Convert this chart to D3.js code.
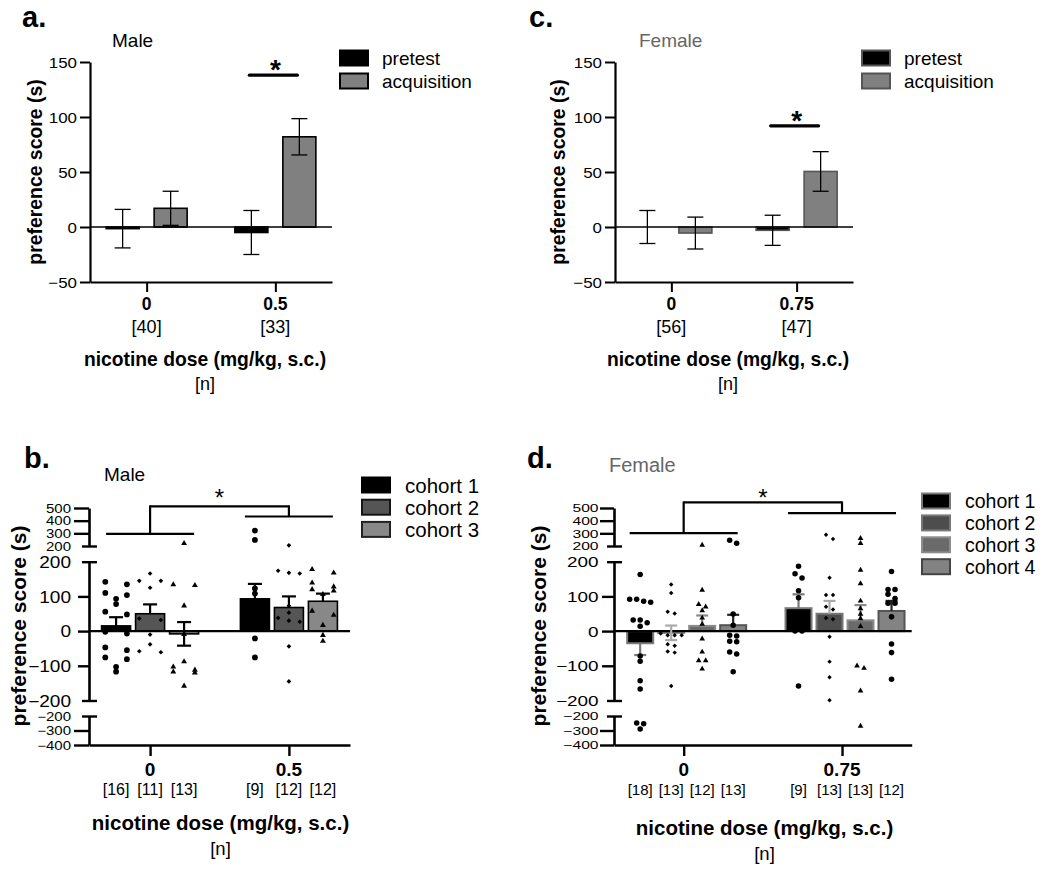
<!DOCTYPE html>
<html>
<head>
<meta charset="utf-8">
<script src="https://cdn.jsdelivr.net/npm/d3@7"></script>
<style>
  body { margin: 0; background: #fff; }
  svg { display: block; }
  text { font-family: "Liberation Sans", Arial, sans-serif; }
</style>
</head>
<body>
<svg id="chart" width="1050" height="874"></svg>
<script>
// ================= DATA =================
// Panels a / c : pretest vs acquisition (mean, SEM)
const simpleSeries = ["pretest", "acquisition"];
const simpleTicks = [-50, 0, 50, 100, 150];

const aDoses = ["0", "0.5"];
const aN = ["[40]", "[33]"];
const aPretestMean = [-1.5, -5];
const aPretestSem = [17.5, 20];
const aAcqMean = [17, 82];
const aAcqSem = [15.5, 16.5];

const cDoses = ["0", "0.75"];
const cN = ["[56]", "[47]"];
const cPretestMean = [0, -3];
const cPretestSem = [15, 13.7];
const cAcqMean = [-5.5, 50.5];
const cAcqSem = [14.5, 18];

// Panels b / d : broken y axis, cohorts
const brokenTicksTop = [200, 300, 400, 500];
const brokenTicksMid = [-200, -100, 0, 100, 200];
const brokenTicksBot = [-400, -300, -200];

const bCohorts = ["cohort 1", "cohort 2", "cohort 3"];
const bDoses = ["0", "0.5"];
const bN = [["[16]", "[11]", "[13]"], ["[9]", "[12]", "[12]"]];
const bMean = [[15, 50, -8], [93, 68, 86]];
const bSem = [[25, 27, 34], [43, 32, 22]];
const bErrDir = [["up", "up", "both"], ["up", "up", "up"]];
const bPointsDose0 = [
  [135, 110, 93, 48, -2, -55, -76, -117, -47, 142, 104, 78, 56, -7, -81, -103],
  [145, -61, 166, 125, 32, -10, -38, 145, 36, -58],
  [-9, -88, -117, 221, 134, 73, -112, -158, 132, -103, -120]
];
const bPointsDose1 = [
  [322, 248, 123, 108, -21, -76],
  [168, 205, 166, 174, 53, 27, 73, 30, 38, -44, -145],
  [128, 106, 168, 116, 46, 17, -12, -29, 178, 139, 120, 58]
];

const dCohorts = ["cohort 1", "cohort 2", "cohort 3", "cohort 4"];
const dDoses = ["0", "0.75"];
const dN = [["[18]", "[13]", "[12]", "[13]"], ["[9]", "[13]", "[13]", "[12]"]];
const dMean = [[-35, -5, 15, 17], [66, 50, 31, 58]];
const dSem = [[34, 21, 30, 30], [40, 37, 44, 29]];
const dErrDir = [["down", "both", "up", "up"], ["up", "up", "up", "up"]];
const dPointsDose0 = [
  [163, 92, 83, 92, 86, 32, 32, 14, 24, -87, -72, -167, -143, -253, -248, -290],
  [134, 110, 56, 51, -7, -12, -12, -12, -42, -38, -62, -59, -158],
  [208, 118, 77, 70, 59, 38, 20, -22, -60, -85, -109, -85],
  [245, 221, 49, 17, -14, -12, -31, -29, -66, -60, -117]
];
const dPointsDose1 = [
  [187, 165, 153, 116, 96, 0, 0, -158],
  [256, 288, 104, 104, 70, 154, 62, 34, 38, -16, -88, -133, -199],
  [261, 221, 176, 137, 87, 65, 36, 14, -100, -107, -172, -269, 49],
  [106, 80, 172, 120, 94, 41, -37, -62, -139, 120, 80]
];

// ================= DRAWING =================
const svg = d3.select("#chart");

function txt(g, x, y, s, size, o = {}) {
  const t = g.append("text").attr("x", x).attr("y", y).text(s)
    .attr("font-size", size)
    .attr("font-weight", o.bold ? "bold" : "normal")
    .attr("fill", o.fill || "#000")
    .attr("text-anchor", o.anchor || "middle");
  if (o.baseline) t.attr("dominant-baseline", o.baseline);
  if (o.rotate) t.attr("transform", `rotate(-90,${x},${y})`);
  else if (o.sx) t.attr("transform", `translate(${x},${y}) scale(${o.sx},1) translate(${-x},${-y})`);
  return t;
}

function styleTicks(axisG, size, sx, gap) {
  axisG.attr("font-family", null).attr("font-size", null);
  axisG.selectAll(".tick text")
    .attr("font-size", size)
    .attr("fill", "#000")
    .attr("x", -gap / sx)
    .attr("dy", "0.36em")
    .attr("transform", `scale(${sx},1)`);
}

function errorBar(g, cx, y0, y1, cap, color, sw) {
  g.append("line").attr("x1", cx).attr("x2", cx).attr("y1", y0).attr("y2", y1)
    .attr("stroke", color).attr("stroke-width", sw);
  [y0, y1].forEach(yy => g.append("line").attr("x1", cx - cap / 2).attr("x2", cx + cap / 2)
    .attr("y1", yy).attr("y2", yy).attr("stroke", color).attr("stroke-width", sw));
}

function simplePanel(o) {
  const g = svg.append("g");
  const x = d3.scalePoint().domain(o.doses).range([o.x0, o.x1]).padding(o.pad);
  const inner = d3.scaleBand().domain(simpleSeries).range([-40.5, 40.5]).paddingInner(0.3125).paddingOuter(0);
  const y = d3.scaleLinear().domain([-50, 150]).range([282, 62]);

  // bars
  const rows = [];
  o.doses.forEach((dose, i) => {
    rows.push({ dose, s: "pretest", m: o.pm[i], e: o.ps[i] });
    rows.push({ dose, s: "acquisition", m: o.am[i], e: o.as[i] });
  });
  g.selectAll("rect.bar").data(rows).join("rect").attr("class", "bar")
    .attr("x", d => x(d.dose) + inner(d.s))
    .attr("width", inner.bandwidth())
    .attr("y", d => y(Math.max(0, d.m)))
    .attr("height", d => Math.abs(y(d.m) - y(0)))
    .attr("fill", d => d.s === "pretest" ? "#000" : "#808080")
    .attr("stroke", o.barStroke).attr("stroke-width", 1.6);

  // zero line
  g.append("line").attr("x1", o.x0).attr("x2", o.x1).attr("y1", y(0)).attr("y2", y(0))
    .attr("stroke", "#000").attr("stroke-width", 1.6);

  // error bars
  rows.forEach(d => {
    const cx = x(d.dose) + inner(d.s) + inner.bandwidth() / 2;
    errorBar(g, cx, y(d.m - d.e), y(d.m + d.e), 16, "#000", 1.3);
  });

  // axes
  const ya = g.append("g").attr("transform", `translate(${o.x0},0)`)
    .call(d3.axisLeft(y).tickValues(simpleTicks).tickSize(10).tickSizeOuter(0));
  ya.select(".domain").attr("stroke-width", 2.2);
  ya.selectAll(".tick line").attr("stroke-width", 2);
  styleTicks(ya, 15, 1.13, 13);

  const xa = g.append("g").attr("transform", `translate(0,282)`)
    .call(d3.axisBottom(x).tickSize(10).tickSizeOuter(0).tickFormat(""));
  xa.select(".domain").attr("stroke-width", 2.2);
  xa.selectAll(".tick line").attr("stroke-width", 2);

  o.doses.forEach((dose, i) => {
    txt(g, x(dose), 310, dose, 17.5, { bold: true });
    txt(g, x(dose), 333, o.n[i], 18);
  });

  // significance
  const sx1 = x(o.doses[1]) + inner("pretest") + inner.bandwidth() / 2;
  const sx2 = x(o.doses[1]) + inner("acquisition") + inner.bandwidth() / 2;
  g.append("line").attr("x1", sx1 - 2).attr("x2", sx2 - 2).attr("y1", y(o.sig)).attr("y2", y(o.sig))
    .attr("stroke", "#000").attr("stroke-width", 3.2).attr("stroke-linecap", "round");
  txt(g, (sx1 + sx2) / 2, y(o.sig) - 12 + 0.58 * 28, "*", 28, { bold: true });

  // titles
  txt(g, o.letterX, 26.5, o.letter, 29, { bold: true, anchor: "start" });
  txt(g, o.titleX, 46.5, o.title, 19, { anchor: "start", fill: o.titleColor });
  txt(g, o.yTitleX, 172, "preference score (s)", 19.4, { bold: true, rotate: true, baseline: "central" });
  txt(g, (o.x0 + o.x1) / 2 - 6, 366, "nicotine dose (mg/kg, s.c.)", 19.3, { bold: true });
  txt(g, (o.x0 + o.x1) / 2 - 6, 390, "[n]", 18);

  // legend
  simpleSeries.forEach((s, i) => {
    const cy = 58 + i * 23;
    g.append("rect").attr("x", o.legX).attr("y", cy - 7.5).attr("width", 28).attr("height", 15)
      .attr("fill", s === "pretest" ? "#000" : "#808080")
      .attr("stroke", o.legStroke).attr("stroke-width", 2);
    txt(g, o.legX + 42, cy, s, 19, { anchor: "start", baseline: "central" });
  });
}

function cohortPanel(o) {
  const g = svg.append("g");
  const x = d3.scalePoint().domain(o.doses).range([o.x0, o.x1]).padding(o.pad);
  const inner = d3.scaleBand().domain(o.cohorts)
    .range([-o.iw / 2 + o.shift, o.iw / 2 + o.shift]).paddingInner(o.pin).paddingOuter(0);
  const yT = d3.scaleLinear().domain([200, 500]).range([546, 508]);
  const yM = d3.scaleLinear().domain([-200, 200]).range([700.5, 561.7]);
  const yB = d3.scaleLinear().domain([-400, -200]).range([745, 716]);
  const y = v => v > 200 ? yT(v) : (v < -200 ? yB(v) : yM(v));
  const bw = inner.bandwidth();

  // bars
  const rows = [];
  o.doses.forEach((dose, i) => o.cohorts.forEach((c, j) => rows.push({
    dose, c, j, m: o.mean[i][j], e: o.sem[i][j], dir: o.dir[i][j], pts: o.points[i][j], n: o.n[i][j]
  })));
  g.selectAll("rect.bar").data(rows).join("rect").attr("class", "bar")
    .attr("x", d => x(d.dose) + inner(d.c))
    .attr("width", bw)
    .attr("y", d => yM(Math.max(0, d.m)))
    .attr("height", d => Math.abs(yM(d.m) - yM(0)))
    .attr("fill", d => o.fills[d.j])
    .attr("stroke", d => o.strokes[d.j]).attr("stroke-width", o.bsw);

  // zero line
  g.append("line").attr("x1", o.x0).attr("x2", o.x1).attr("y1", yM(0)).attr("y2", yM(0))
    .attr("stroke", "#000").attr("stroke-width", 2.4);

  // error bars
  rows.forEach(d => {
    const cx = x(d.dose) + inner(d.c) + bw / 2;
    const lo = d.dir === "up" ? d.m : d.m - d.e;
    const hi = d.dir === "down" ? d.m : d.m + d.e;
    const lw = 2.2;
    g.append("line").attr("x1", cx).attr("x2", cx).attr("y1", yM(lo)).attr("y2", yM(hi))
      .attr("stroke", o.errColors[d.j]).attr("stroke-width", lw);
    const capsAt = d.dir === "both" ? [lo, hi] : (d.dir === "up" ? [hi] : [lo]);
    capsAt.forEach(v => g.append("line").attr("x1", cx - o.cap / 2).attr("x2", cx + o.cap / 2)
      .attr("y1", yM(v)).attr("y2", yM(v)).attr("stroke", o.errColors[d.j]).attr("stroke-width", lw));
  });

  // points (rows of similar values spread sideways)
  const symTypes = { circle: d3.symbolCircle, square: d3.symbolSquare, triangle: d3.symbolTriangle };
  rows.forEach(d => {
    const cx = x(d.dose) + inner(d.c) + bw / 2;
    const pts = d.pts.map(v => ({ v, py: y(v) })).sort((a, b) => a.py - b.py);
    const groups = [];
    pts.forEach(p => {
      const last = groups[groups.length - 1];
      if (last && p.py - last[0].py < o.rowDy) last.push(p); else groups.push([p]);
    });
    groups.forEach(gr => {
      const k = gr.length;
      const w = Math.min((k - 1) * o.colStep, o.maxW);
      gr.forEach((p, i) => { p.px = cx + (k === 1 ? 0 : -w / 2 + i * w / (k - 1)); });
    });
    const shape = o.symbols[d.j];
    g.selectAll(null).data(pts).join("path")
      .attr("d", d3.symbol().type(symTypes[shape]).size(o.symSize[shape]))
      .attr("transform", p => `translate(${p.px},${p.py})` + (shape === "square" ? " rotate(45)" : ""))
      .attr("fill", "#000");
  });

  // axes: three segments
  const segs = [
    { sc: yT, ticks: brokenTicksTop, caps: [200], size: o.smallSize, sx: o.smallSx, tl: o.tlSmall },
    { sc: yM, ticks: brokenTicksMid, caps: [-200, 200], size: o.midSize, sx: o.midSx, tl: o.tlMid },
    { sc: yB, ticks: brokenTicksBot, caps: [-200], size: o.smallSize, sx: o.smallSx, tl: o.tlSmall }
  ];
  segs.forEach(s => {
    const a = g.append("g").attr("transform", `translate(${o.x0},0)`)
      .call(d3.axisLeft(s.sc).tickValues(s.ticks).tickSize(s.tl).tickSizeOuter(0));
    a.select(".domain").attr("stroke-width", 2.6);
    a.selectAll(".tick line").attr("stroke-width", 2.4)
      .filter(v => s.caps.includes(v)).attr("x1", 8).attr("x2", -7);
    styleTicks(a, s.size, s.sx, o.labGap);
  });
  const xa = g.append("g").attr("transform", `translate(0,745)`)
    .call(d3.axisBottom(x).tickSize(11).tickSizeOuter(0).tickFormat(""));
  xa.select(".domain").attr("stroke-width", 2.6);
  xa.selectAll(".tick line").attr("stroke-width", 2.4);

  o.doses.forEach(dose => txt(g, x(dose), 776, dose, 19, { bold: true }));
  rows.forEach(d => txt(g, x(d.dose) + inner(d.c) + bw / 2, 795, d.n, o.nSize));

  // significance bracket
  const gx0 = x(o.doses[0]), gx1 = x(o.doses[1]);
  const ln = (x1, x2, y1, y2) => g.append("line").attr("x1", x1).attr("x2", x2).attr("y1", y1).attr("y2", y2)
    .attr("stroke", "#000").attr("stroke-width", 2.2);
  ln(gx0 - o.brHalf, gx0 + o.brHalf, yT(o.brLeft), yT(o.brLeft));
  ln(gx1 - o.brHalf, gx1 + o.brHalf, yT(o.brRight), yT(o.brRight));
  ln(gx0, gx1, yT(o.brTop), yT(o.brTop));
  ln(gx0, gx0, yT(o.brTop) - 1, yT(o.brLeft));
  ln(gx1, gx1, yT(o.brTop) - 1, yT(o.brRight));
  txt(g, (gx0 + gx1) / 2, 492 + 0.58 * 24, "*", 24);

  // titles
  txt(g, o.letterX, 468, o.letter, 29, { bold: true, anchor: "start" });
  txt(g, o.titleX, o.titleY, o.title, o.titleSize, { anchor: "start", fill: o.titleColor });
  txt(g, o.yTitleX, 626, "preference score (s)", 21, { bold: true, rotate: true, baseline: "central" });
  txt(g, o.xTitleX, o.xTitleY, "nicotine dose (mg/kg, s.c.)", 20.5, { bold: true });
  txt(g, o.xTitleX, o.xTitleY + 25, "[n]", 18.5);

  // legend
  o.cohorts.forEach((c, j) => {
    const cy = o.legY + j * o.legStep;
    g.append("rect").attr("x", o.legX).attr("y", cy - 7.5).attr("width", 28).attr("height", 15)
      .attr("fill", o.fills[j]).attr("stroke", o.legStrokes[j]).attr("stroke-width", 2);
    txt(g, o.legX + 43, cy, c, o.legSize, { anchor: "start", baseline: "central" });
  });
}

simplePanel({
  doses: aDoses, n: aN, pm: aPretestMean, ps: aPretestSem, am: aAcqMean, as: aAcqSem,
  x0: 90, x1: 332, pad: 0.44, barStroke: "#000", sig: 138,
  letter: "a.", letterX: 22, title: "Male", titleX: 112, titleColor: "#000",
  yTitleX: 35, legX: 340, legStroke: "#000"
});
simplePanel({
  doses: cDoses, n: cN, pm: cPretestMean, ps: cPretestSem, am: cAcqMean, as: cAcqSem,
  x0: 615, x1: 853, pad: 0.45, barStroke: "#555", sig: 92,
  letter: "c.", letterX: 529, title: "Female", titleX: 639, titleColor: "#666",
  yTitleX: 558, legX: 862, legStroke: "#555"
});

cohortPanel({
  doses: bDoses, cohorts: bCohorts, n: bN, mean: bMean, sem: bSem, dir: bErrDir,
  points: [bPointsDose0.map((_, j) => bPointsDose0[j]), bPointsDose1.map((_, j) => bPointsDose1[j])],
  x0: 89, x1: 350, pad: 0.44, iw: 97, pin: 0.147, shift: 0,
  fills: ["#000", "#555", "#888"], strokes: ["#000", "#000", "#000"], bsw: 1.6,
  legStrokes: ["#000", "#151515", "#222"],
  errColors: ["#000", "#000", "#000"], cap: 14,
  symbols: ["circle", "square", "triangle"], symSize: { circle: 26, square: 11, triangle: 15 },
  rowDy: 4.5, colStep: 21.6, maxW: 21.6,
  smallSize: 12, smallSx: 1.25, midSize: 16, midSx: 1.19, tlSmall: 15, tlMid: 11, labGap: 18,
  nSize: 16, brHalf: 44, brLeft: 295, brRight: 433, brTop: 513,
  letter: "b.", letterX: 24, title: "Male", titleX: 104, titleY: 480.5, titleSize: 19, titleColor: "#000",
  yTitleX: 18, xTitleX: 220.5, xTitleY: 829.5,
  legX: 362, legY: 485, legStep: 22.2, legSize: 20.5
});

cohortPanel({
  doses: dDoses, cohorts: dCohorts, n: dN, mean: dMean, sem: dSem, dir: dErrDir,
  points: [dPointsDose0, dPointsDose1],
  x0: 614, x1: 911.7, pad: 0.44, iw: 119, pin: 0.161, shift: 3,
  fills: ["#000", "#4d4d4d", "#6a6a6a", "#838383"], strokes: ["#7a7a7a", "#777", "#8c8c8c", "#555"], bsw: 2,
  legStrokes: ["#7a7a7a", "#777", "#8c8c8c", "#444"],
  errColors: ["#7a7a7a", "#aaa", "#8a8a8a", "#222"], cap: 12,
  symbols: ["circle", "square", "triangle", "circle"], symSize: { circle: 24, square: 10, triangle: 14 },
  rowDy: 4.5, colStep: 7, maxW: 21,
  smallSize: 11, smallSx: 1.42, midSize: 14, midSx: 1.35, tlSmall: 14, tlMid: 12, labGap: 15.5,
  nSize: 15, brHalf: 54, brLeft: 301, brRight: 460, brTop: 544,
  letter: "d.", letterX: 527, title: "Female", titleX: 609, titleY: 471.5, titleSize: 20, titleColor: "#666",
  yTitleX: 538, xTitleX: 764.5, xTitleY: 835,
  legX: 922, legY: 501, legStep: 21.9, legSize: 19.5
});
</script>
</body>
</html>
